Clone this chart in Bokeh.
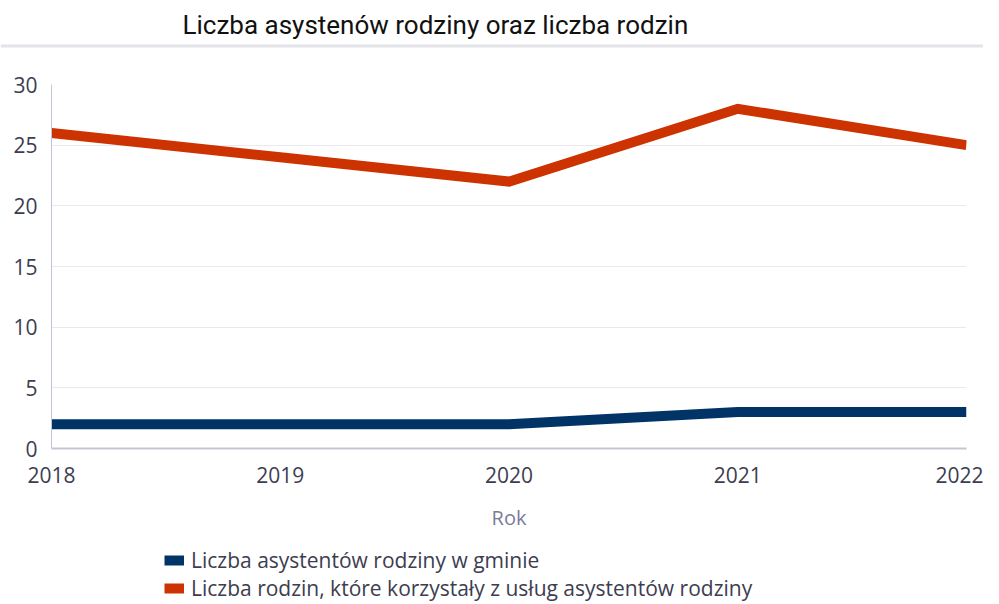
from bokeh.plotting import figure
from bokeh.models import Range1d, Legend, LegendItem, FixedTicker, ColumnDataSource
from bokeh.layouts import column
from bokeh.embed import file_html
from bokeh.resources import INLINE
from bokeh.core.properties import value

# ---- data ----
years = [2018, 2019, 2020, 2021, 2022]
asystenci = [2, 2, 2, 3, 3]
rodziny = [26, 24, 22, 28, 25]
title_text = "Liczba asystenów rodziny oraz liczba rodzin"
x_label = "Rok"
series_names = ["Liczba asystentów rodziny w gminie",
                "Liczba rodzin, które korzystały z usług asystentów rodziny"]
y_ticks = [0, 5, 10, 15, 20, 25, 30]

BLUE = "#003366"
RED = "#cc3300"
TICK = "#3d3d50"
FONT = "Open Sans"
W = 983


def blank(height):
    f = figure(width=W, height=height, x_range=Range1d(0, W), y_range=Range1d(height, 0),
               toolbar_location=None, output_backend="svg", min_border=0,
               x_axis_location=None, y_axis_location=None)
    f.grid.visible = False
    f.outline_line_color = None
    f.frame_align = False
    return f


# ---- header (title + separator) ----
HH = 58
head = blank(HH)
head.text(x=[182], y=[24], text=[title_text], text_font=value("Roboto"),
          text_font_size="26px", text_color="#111111", text_baseline="alphabetic",
          text_align="left")
head.segment(x0=[0], y0=[45.5], x1=[W], y1=[45.5], line_color="#e3e3ea", line_width=3)

# ---- main chart ----
p = figure(width=W, height=480, x_range=Range1d(2018, 2022), y_range=Range1d(0, 30),
           toolbar_location=None, output_backend="svg",
           min_border_left=51, min_border_right=17, min_border_top=26, min_border_bottom=90)
p.outline_line_color = None
p.frame_align = False

src = ColumnDataSource(dict(x=years, a=asystenci, r=rodziny))
r1 = p.line("x", "a", source=src, line_color=BLUE, line_width=10, line_join="miter")
r2 = p.line("x", "r", source=src, line_color=RED, line_width=10, line_join="miter")

p.xaxis.ticker = FixedTicker(ticks=years)
p.yaxis.ticker = FixedTicker(ticks=y_ticks)
for ax in (p.xaxis, p.yaxis):
    ax.major_tick_line_color = None
    ax.minor_tick_line_color = None
    ax.major_label_text_font = FONT
    ax.major_label_text_font_size = "21px"
    ax.major_label_text_color = TICK
    ax.axis_line_color = "#c3c5d5"
p.xaxis.axis_line_width = 2
p.yaxis.major_label_standoff = 8
p.xaxis.major_label_standoff = 12
p.xaxis.axis_label = x_label
p.xaxis.axis_label_text_font = FONT
p.xaxis.axis_label_text_font_style = "normal"
p.xaxis.axis_label_text_font_size = "20px"
p.xaxis.axis_label_text_color = "#7b7b9b"
p.xaxis.axis_label_standoff = 18

p.xgrid.visible = False
p.ygrid.grid_line_color = "#e9e9ef"
p.ygrid.grid_line_width = 1

# ---- legend strip ----
LH = 64
lf = blank(LH)
l1 = lf.line(x=[-100, -90], y=[-100, -100], line_color=BLUE, line_width=10)
l2 = lf.line(x=[-100, -90], y=[-100, -100], line_color=RED, line_width=10)
legend = Legend(items=[LegendItem(label=series_names[0], renderers=[l1]),
                       LegendItem(label=series_names[1], renderers=[l2])],
                location=(164, 0), orientation="vertical",
                glyph_width=20, glyph_height=12, label_height=24, spacing=-10,
                padding=0, margin=0, label_standoff=7,
                label_text_font=FONT, label_text_font_size="21px", label_text_color=TICK,
                background_fill_alpha=0, border_line_color=None)
lf.add_layout(legend)

layout = column(head, p, lf)
open("out.html", "w").write(file_html(layout, INLINE))
